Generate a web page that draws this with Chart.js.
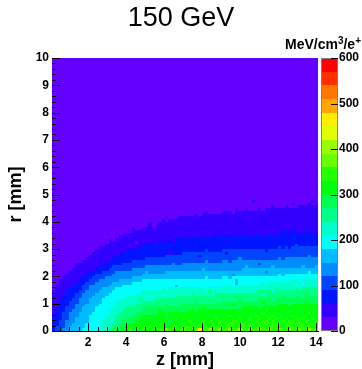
<!DOCTYPE html>
<html>
<head>
<meta charset="utf-8">
<title>150 GeV</title>
<script src="https://cdn.jsdelivr.net/npm/chart.js@4.4.0/dist/chart.umd.min.js"></script>
<style>
  html, body { margin: 0; padding: 0; background: #fff; }
</style>
</head>
<body>
<canvas id="dose-chart" width="362" height="369"></canvas>
<script>
// Energy density map for 150 GeV positrons
// One character per cell = colour band (0-9, a-j), each band is 30 MeV/cm3/e+
// Rows start at r = 0 and go up in 0.1 mm steps, columns run along z in 0.175 mm steps
const bandWidth = 30;
const zStart = 0.1;
const zStep = 0.175;
const zCells = 80;
const rStep = 0.1;
const rCells = 100;

const levelRows = [
    '2334455556 6666777899 9aabababba babbcbbabc bbbcfbbcbb cbbcbbdbbc bbcbbcbbcb bcbbcbbdbc',
    '2333455555 6666677789 99aaaaaaab aaabaabbaa bbababbabb babbbabbbb abbbabbbba bbbabbbbab',
    '2233445555 6666677788 999aaaaaaa aabaaabaab aababbaaba babbbabbab babbbabbba bbabbbabbb',
    '2233444555 5666677778 89999aaaaa aaaaa9aaaa abaaababaa bababbaaba ababbabaab abbababaab',
    '2223344555 5666667778 889999aaaa aaaaaaaaab aaaaaaaaab aaaaaabaab aabaababaa baababaaba',
    '1223344455 5666667778 8888999aaa aaaa9aaaaa aaaaaaaaaa aaabaaaaaa abaaaabaaa aabaaabaaa',
    '1223344455 5566666777 8888899999 99aa9aaaaa aaaaaaaaaa aaaaaaaaaa aaabaaaaaa aaaaaaabaa',
    '1222334445 5556666777 7888888999 99a9999999 9aa9aaaaaa aaaaaaaaaa aaaa9aaaaa aaaaaaaaaa',
    '1122333445 5556666677 7788888899 9999999999 99999a9999 9999999aaa aa9aaaaaaa aaaaaaaaaa',
    '1122233444 5555666667 7777788888 8888988889 9999999999 9999a99999 99999999aa a9aaaaaaaa',
    '1122233344 4555566667 7777777888 8888888888 8889888888 8999999999 999a999999 999999a999',
    '1112223344 4555566666 7777778777 7888888888 8888888888 8888889888 8899998999 9999999999',
    '1112222334 4455556666 6677777767 7777777888 8888888888 8888898888 8888888889 8889989999',
    '1111222334 4445555666 6666677777 7777777777 7787777778 8888888888 8887888888 8888889888',
    '1111222233 4444555566 6666666777 7777777777 7777777877 7777777777 7788887888 8888888888',
    '0111122223 3444455556 6666666666 6667677777 7777776777 7777777777 7777777877 7778788888',
    '0111112223 3444444555 5666666666 6666666566 6666666666 6677677777 7777777777 7776777777',
    '0011111222 3334444455 5555666666 6666666666 6666666666 6666656666 6667677777 7777767777',
    '0011111122 2333444444 5555555666 6666666666 6666666666 6666656666 6666666666 6677677777',
    '0001111112 2233334444 4444555555 5555555555 5555556555 5665666666 6666666666 6666666666',
    '0000111111 2223333344 4444444555 5555555555 5555555555 5555455555 5555555565 6666666666',
    '0000011111 1222233334 4444444454 4444555555 5555555555 5555555555 5555455555 5555555655',
    '0000001111 1112222333 3333444444 4444444444 4444454444 4444444555 5555555555 5555555555',
    '0000000111 1111222233 3333333344 4444444444 4444444444 4444444454 4444445444 4444454445',
    '0000000111 1111122222 2333333333 3333334334 4444444444 4444444444 4434444444 4444444444',
    '0000000001 1111111222 2222333333 3333333333 3333334333 3443444444 4444444444 4444444444',
    '0000000000 1111111122 2222222233 3333333333 3333333333 3333334333 3333333343 4444444444',
    '0000000000 0111111112 2222222222 2222333333 3333233333 3333333333 3333333333 3333333433',
    '0000000000 0011111111 1222222222 2222212223 3333333333 3323333333 3333333333 3333333333',
    '0000000000 0001111111 1112222222 2222222222 2222223222 2333333333 3333233333 3333333333',
    '0000000000 0000111111 1111112222 2122222222 2222222222 2222222222 2222222232 3233333333',
    '0000000000 0000001111 1111111122 2222221222 2222222222 2222222222 2222222222 2223222222',
    '0000000000 0000000111 1111101111 1122222222 2221222222 2222222222 2222222222 2222222222',
    '0000000000 0000000101 1111111111 1111111222 1222222222 2212222222 2222222222 2222222222',
    '0000000000 0000000000 1111111111 1111121111 1111112122 2222222222 2222222212 2222222222',
    '0000000000 0000000000 0011111111 1111111111 1111111111 1111111211 1211121122 2221222212',
    '0000000000 0000000000 0000111111 1111111111 1111111111 1111111111 1111111112 1121112112',
    '0000000000 0000000000 0000100111 1111111111 1111111111 1111111111 1111111111 1111111211',
    '0000000000 0000000000 0000000001 0111111111 1111111111 1111111111 1111111111 1111111111',
    '0000000000 0000000000 0000000001 0011111111 1111111111 1111111111 1111111111 1111111111',
    '0000000000 0000000000 0000000000 0001011111 1111111111 1111111111 1111111111 1111111111',
    '0000000000 0000000000 0000000000 0000100011 1111111111 1111111111 1111111111 1111111111',
    '0000000000 0000000000 0000000000 0000000000 0001011111 1111111111 1111111111 1111111111',
    '0000000000 0000000000 0000000000 0000000000 0000001000 0111011111 1111111111 1111111111',
    '0000000000 0000000000 0000000000 0000000000 0000000000 0000010010 0010111111 1111111111',
    '0000000000 0000000000 0000000000 0000000000 0000000000 0000000000 0000001000 1000111111',
    '0000000000 0000000000 0000000000 0000000000 0000000000 0000000000 0000000000 0010000100',
    '0000000000 0000000000 0000000000 0000000000 0000000000 0000000000 1000000000 0000000010'
];
// above the last listed row everything sits in the lowest band

const zTicks = [2, 4, 6, 8, 10, 12, 14];
const rTicks = [0, 1, 2, 3, 4, 5, 6, 7, 8, 9, 10];
const colourTicks = [0, 100, 200, 300, 400, 500, 600];
const colourMax = 600;

const FONT = '"Liberation Sans", Arial, Helvetica, sans-serif';

// ROOT style rainbow: 20 contour bands picked out of a 50 colour palette
function bandColour(value) {
    const band = Math.min(19, Math.floor(value / bandWidth));
    const idx = Math.floor((band + 0.99) * 50 / 20);
    const hue = 280 - (idx + 1) * 5.6;
    return 'hsl(' + hue.toFixed(1) + ', 100%, 50%)';
}

const cells = [];
for (let j = 0; j < rCells; j++) {
    const row = levelRows[j] ? levelRows[j].replace(/ /g, '') : '';
    for (let c = 0; c < zCells; c++) {
        const level = parseInt(row[c] || row[row.length - 1] || '0', 36);
        cells.push({
            x: zStart + (c + 0.5) * zStep,
            y: (j + 0.5) * rStep,
            v: (level + 0.5) * bandWidth,
            col: c,
            row: j
        });
    }
}

const heatmapPlugin = {
    id: 'heatmap',
    beforeDatasetsDraw(chart) {
        const { ctx, scales: { x, y } } = chart;
        ctx.save();
        chart.data.datasets[0].data.forEach(function(cell) {
            // shared edges come from the same expression so neighbours line up
            const x0 = Math.round(x.getPixelForValue(zStart + cell.col * zStep));
            const x1 = Math.round(x.getPixelForValue(zStart + (cell.col + 1) * zStep));
            const y0 = Math.round(y.getPixelForValue((cell.row + 1) * rStep));
            const y1 = Math.round(y.getPixelForValue(cell.row * rStep));
            ctx.fillStyle = bandColour(cell.v);
            ctx.fillRect(x0, y0, x1 - x0, y1 - y0);
        });
        ctx.restore();
    },
    afterDatasetsDraw(chart) {
        const { ctx, chartArea, scales: { x, y, colour } } = chart;
        ctx.save();
        ctx.strokeStyle = '#000';
        ctx.lineWidth = 1;
        ctx.beginPath();
        // z ticks, inside the frame
        for (let i = 1; i * 0.5 <= 14.1; i++) {
            const px = Math.round(x.getPixelForValue(i * 0.5)) + 0.5;
            const len = i % 4 === 0 ? 8 : 4;
            ctx.moveTo(px, chartArea.bottom);
            ctx.lineTo(px, chartArea.bottom - len);
        }
        // r ticks
        for (let i = 0; i <= 50; i++) {
            const py = Math.round(y.getPixelForValue(i * 0.2)) + 0.5;
            const len = i % 5 === 0 ? 8 : 4;
            ctx.moveTo(chartArea.left, py);
            ctx.lineTo(chartArea.left + len, py);
        }
        ctx.stroke();

        // colour scale
        const barLeft = colour.left + 3;
        const barRight = colour.left + 20;
        for (let k = 0; k < colourMax / bandWidth; k++) {
            const top = Math.round(colour.getPixelForValue((k + 1) * bandWidth));
            const bottom = Math.round(colour.getPixelForValue(k * bandWidth));
            ctx.fillStyle = bandColour((k + 0.5) * bandWidth);
            ctx.fillRect(barLeft, top, barRight - barLeft, bottom - top);
        }
        ctx.strokeStyle = '#808080';
        ctx.strokeRect(barLeft + 0.5, chartArea.top + 0.5, barRight - barLeft - 1, chartArea.bottom - chartArea.top - 1);
        ctx.strokeStyle = '#000';
        ctx.beginPath();
        colourTicks.forEach(function(v) {
            const py = Math.round(colour.getPixelForValue(v)) + 0.5;
            ctx.moveTo(barRight, py);
            ctx.lineTo(barRight - 7, py);
        });
        ctx.stroke();

        // colour scale title with superscripts
        const parts = [
            { t: 'MeV/cm', size: 14, rise: 0 },
            { t: '3', size: 10, rise: 5 },
            { t: '/e', size: 14, rise: 0 },
            { t: '+', size: 10, rise: 5 }
        ];
        let total = 0;
        parts.forEach(function(p) {
            ctx.font = 'bold ' + p.size + 'px ' + FONT;
            p.w = ctx.measureText(p.t).width;
            total += p.w;
        });
        let tx = 361 - total;
        ctx.fillStyle = '#000';
        ctx.textBaseline = 'alphabetic';
        ctx.textAlign = 'left';
        parts.forEach(function(p) {
            ctx.font = 'bold ' + p.size + 'px ' + FONT;
            ctx.fillText(p.t, tx, 49 - p.rise);
            tx += p.w;
        });
        ctx.restore();
    }
};

const tickFont = { family: FONT, size: 12, weight: 'bold' };
const titleFont = { family: FONT, size: 18, weight: 'bold', lineHeight: 1 };

new Chart(document.getElementById('dose-chart'), {
    type: 'scatter',
    data: {
        datasets: [{
            label: 'energy density',
            data: cells,
            pointRadius: 0,
            pointHoverRadius: 0,
            showLine: false
        }]
    },
    options: {
        responsive: false,
        animation: false,
        events: [],
        layout: { padding: 0 },
        plugins: {
            legend: { display: false },
            tooltip: { enabled: false },
            title: {
                display: true,
                text: '150 GeV',
                color: '#000',
                font: { family: FONT, size: 27, weight: 'normal', lineHeight: 1.2 },
                padding: { top: 2, bottom: 23.6 }
            }
        },
        scales: {
            x: {
                type: 'linear',
                position: 'bottom',
                min: zStart,
                max: zStart + zCells * zStep,
                afterBuildTicks: function(s) { s.ticks = zTicks.map(v => ({ value: v })); },
                afterFit: function(s) { s.height = 38; },
                grid: { display: false, drawTicks: false },
                border: { display: true, color: '#000', width: 1 },
                ticks: { color: '#000', font: tickFont, padding: 4, maxRotation: 0, autoSkip: false },
                title: { display: true, text: 'z [mm]', color: '#000', font: titleFont, padding: { top: 0, bottom: 0 } }
            },
            y: {
                type: 'linear',
                position: 'left',
                min: 0,
                max: rCells * rStep,
                afterBuildTicks: function(s) { s.ticks = rTicks.map(v => ({ value: v })); },
                afterFit: function(s) { s.width = 52; },
                grid: { display: false, drawTicks: false },
                border: { display: true, color: '#000', width: 1 },
                ticks: { color: '#000', font: tickFont, padding: 3, autoSkip: false },
                title: { display: true, text: 'r [mm]', color: '#000', font: titleFont, padding: { top: 7.5, bottom: 0 } }
            },
            colour: {
                type: 'linear',
                position: 'right',
                min: 0,
                max: colourMax,
                afterBuildTicks: function(s) { s.ticks = colourTicks.map(v => ({ value: v })); },
                afterFit: function(s) { s.width = 44; },
                grid: { display: false, drawTicks: false },
                border: { display: false },
                ticks: { color: '#000', font: tickFont, padding: 21, autoSkip: false }
            }
        }
    },
    plugins: [heatmapPlugin]
});
</script>
</body>
</html>
